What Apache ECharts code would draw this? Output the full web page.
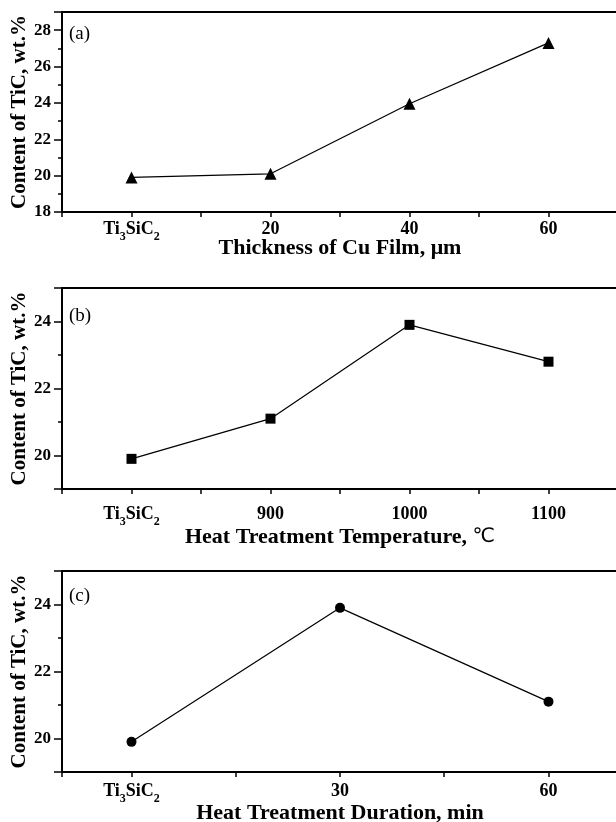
<!DOCTYPE html>
<html>
<head>
<meta charset="utf-8">
<script src="https://cdn.jsdelivr.net/npm/echarts@6/dist/echarts.min.js"></script>
<style>
  html, body { margin: 0; padding: 0; background: #fff; }
  #main { width: 616px; height: 822px; }
</style>
</head>
<body>
<div id="main"></div>
<script>
// panel (a): thickness of Cu film
var catsA = ['Ti3SiC2', '20', '40', '60'];
var valsA = [19.9, 20.1, 23.95, 27.3];
// panel (b): heat treatment temperature
var catsB = ['Ti3SiC2', '900', '1000', '1100'];
var valsB = [19.9, 21.1, 23.9, 22.8];
// panel (c): heat treatment duration
var catsC = ['Ti3SiC2', '30', '60'];
var valsC = [19.9, 23.9, 21.1];

var yTicksA = [18, 20, 22, 24, 26, 28];
var yMinorA = [19, 21, 23, 25, 27, 29];
var yTicksBC = [20, 22, 24];
var yMinorBC = [19, 21, 23, 25];

var serif = '"Liberation Serif", "Times New Roman", serif';

var chartDom = document.getElementById('main');
var myChart = echarts.init(chartDom);
var option;

function pts(vals) {
  return vals.map(function (v, i) { return [i, v]; });
}

var richLabel = {
  m: { fontFamily: serif, fontWeight: 'bold', fontSize: 18, lineHeight: 28, color: '#000', verticalAlign: 'middle' },
  s: { fontFamily: serif, fontWeight: 'bold', fontSize: 12, lineHeight: 12, padding: [16, 0, 0, 0], color: '#000', verticalAlign: 'middle' }
};

// label only at whole category positions
function catFormatter(cats) {
  return function (v) {
    var i = Math.round(v);
    if (Math.abs(v - i) > 1e-6) return '';
    var s = cats[i];
    if (s === undefined) return '';
    if (s === 'Ti3SiC2') return '{m|Ti}{s|3}{m|SiC}{s|2}';
    return '{m|' + s + '}';
  };
}

function valueFormatter(ticks) {
  return function (v) {
    for (var i = 0; i < ticks.length; i++) {
      if (Math.abs(ticks[i] - v) < 1e-6) return String(ticks[i]);
    }
    return '';
  };
}

// tick values nudged a hair off the label values so they are not dropped
function nudge(values) {
  return values.map(function (v) { return v + 1e-4; });
}

var tickLine = { color: '#000', width: 1.5 };

function tickAxis(idx, pos, min, max, len, values) {
  return {
    type: 'value',
    gridIndex: idx,
    position: pos,
    min: min,
    max: max,
    axisLine: { show: false, onZero: false },
    axisTick: { show: true, inside: false, length: len, customValues: values, lineStyle: tickLine },
    axisLabel: { show: false },
    splitLine: { show: false }
  };
}

function xAxesFor(idx, cats, min, max, name, labelMargin, nameGap, step) {
  var ax = {
    type: 'value',
    gridIndex: idx,
    min: min,
    max: max,
    name: name,
    nameLocation: 'middle',
    nameGap: nameGap,
    nameMoveOverlap: false,
    nameTextStyle: {
      rich: {
        b: { fontFamily: serif, fontWeight: 'bold', fontSize: 22, color: '#000' },
        c: { fontFamily: '"DejaVu Sans", sans-serif', fontWeight: 'normal', fontSize: 20, color: '#000' }
      }
    },
    axisLine: { show: true, onZero: false, lineStyle: { color: '#000', width: 2 } },
    axisTick: { show: true, inside: false, length: 5, lineStyle: tickLine },
    axisLabel: { margin: labelMargin, formatter: catFormatter(cats), rich: richLabel },
    splitLine: { show: false }
  };
  if (step.interval) ax.interval = step.interval;
  if (step.splitNumber) ax.splitNumber = step.splitNumber;
  var idxs = cats.map(function (c, i) { return i; });
  return [ax, tickAxis(idx, 'bottom', min, max, 5, nudge(idxs))];
}

// y: main axis (line, ticks, labels) + major ticks axis + minor ticks axis
function yAxesFor(idx, min, max, ticks, minor, nameGap, step) {
  var main = {
    type: 'value',
    gridIndex: idx,
    min: min,
    max: max,
    name: 'Content of TiC, wt.%',
    nameLocation: 'middle',
    nameGap: nameGap,
    nameMoveOverlap: false,
    nameTextStyle: { fontFamily: serif, fontWeight: 'bold', fontSize: 21, color: '#000' },
    axisLine: { show: true, onZero: false, lineStyle: { color: '#000', width: 2 } },
    axisTick: { show: true, inside: false, length: 8, lineStyle: tickLine },
    axisLabel: { margin: 11, formatter: valueFormatter(ticks), fontFamily: serif, fontWeight: 'bold', fontSize: 17, color: '#000' },
    splitLine: { show: false }
  };
  if (step.interval) main.interval = step.interval;
  if (step.splitNumber) main.splitNumber = step.splitNumber;
  return [
    main,
    tickAxis(idx, 'left', min, max, 8, nudge(ticks)),
    tickAxis(idx, 'left', min, max, 4, minor)
  ];
}

var gridStyle = {
  show: true, borderColor: '#000', borderWidth: 2, backgroundColor: 'transparent',
  left: 62, width: 556, outerBoundsMode: 'none', containLabel: false
};

function lineSeries(idx, vals, symbol, size) {
  return {
    type: 'line',
    xAxisIndex: idx * 2,
    yAxisIndex: idx * 3,
    data: pts(vals),
    symbol: symbol,
    symbolSize: size,
    lineStyle: { color: '#000', width: 1.2 },
    itemStyle: { color: '#000' },
    emphasis: { disabled: true }
  };
}

function panelTag(text, top) {
  return {
    type: 'text',
    left: 69,
    top: top,
    style: { text: text, font: '19px ' + serif, fill: '#000' }
  };
}

option = {
  animation: false,
  grid: [
    Object.assign({ top: 12, height: 200 }, gridStyle),
    Object.assign({ top: 288, height: 201 }, gridStyle),
    Object.assign({ top: 571, height: 201 }, gridStyle)
  ],
  xAxis: [].concat(
    xAxesFor(0, catsA, -0.5, 3.5, '{b|Thickness of Cu Film, μm}', 3, 25, { interval: 0.5 }),
    xAxesFor(1, catsB, -0.5, 3.5, '{b|Heat Treatment Temperature, }{c|℃}', 11, 37, { interval: 0.5 }),
    xAxesFor(2, catsC, -1 / 3, 7 / 3, '{b|Heat Treatment Duration, min}', 5, 30, { splitNumber: 5 })
  ),
  yAxis: [].concat(
    yAxesFor(0, 18, 29, yTicksA, yMinorA, 32, { interval: 2 }),
    yAxesFor(1, 19, 25, yTicksBC, yMinorBC, 32, { splitNumber: 3 }),
    yAxesFor(2, 19, 25, yTicksBC, yMinorBC, 32, { splitNumber: 3 })
  ),
  graphic: [
    panelTag('(a)', 25),
    panelTag('(b)', 307),
    panelTag('(c)', 587)
  ],
  series: [
    lineSeries(0, valsA, 'triangle', 12),
    lineSeries(1, valsB, 'rect', 10),
    lineSeries(2, valsC, 'circle', 10)
  ]
};

option && myChart.setOption(option);
</script>
</body>
</html>
